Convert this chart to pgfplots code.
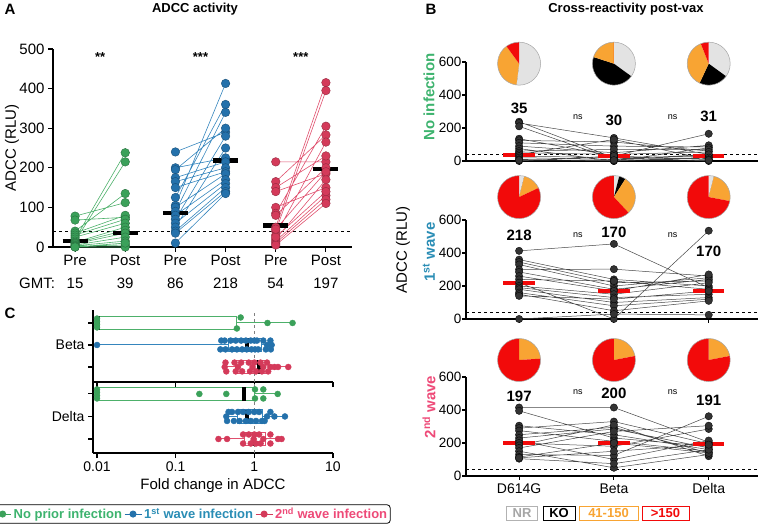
\documentclass[border=0pt]{standalone}
\usepackage{pgfplots}
\pgfplotsset{compat=1.18}
\usepackage{fontspec}
\setmainfont{Liberation Sans}
\definecolor{cgreen}{HTML}{3BA15A}
\definecolor{lgreen}{HTML}{4DB06A}
\definecolor{cblue}{HTML}{2471AB}
\definecolor{lblue}{HTML}{3585BD}
\definecolor{cred}{HTML}{D43A5A}
\definecolor{lred}{HTML}{E0506E}
\definecolor{tgreen}{HTML}{3DB36E}
\definecolor{tblue}{HTML}{2A8DB5}
\definecolor{tpink}{HTML}{EE4A78}
\definecolor{pgray}{HTML}{E3E3E3}
\definecolor{porange}{HTML}{F8A433}
\definecolor{pred}{HTML}{F20A0A}
\definecolor{dotgray}{HTML}{333333}
\newcommand{\fs}[1]{\fontsize{#1}{#1}\selectfont}
\newcommand{\pie}[5]{%
  \pgfmathsetmacro\pa{90-3.6*#2}%
  \pgfmathsetmacro\pb{\pa-3.6*#3}%
  \pgfmathsetmacro\pc{\pb-3.6*#4}%
  \fill[pgray] (#1) -- ++(90:21.5) arc[start angle=90,end angle=\pa,radius=21.5] -- cycle;
  \fill[black] (#1) -- ++(\pa:21.5) arc[start angle=\pa,end angle=\pb,radius=21.5] -- cycle;
  \fill[porange] (#1) -- ++(\pb:21.5) arc[start angle=\pb,end angle=\pc,radius=21.5] -- cycle;
  \fill[pred] (#1) -- ++(\pc:21.5) arc[start angle=\pc,end angle=-270,radius=21.5] -- cycle;
  \draw[gray!70, line width=0.5pt] (#1) circle[radius=21.5];
}
\pgfplotsset{
  every axis/.append style={
    scale only axis, clip=false,
    axis lines=left, axis line style={-, line width=1.1pt},
    tick style={line width=1.1pt, black}, major tick length=5pt,
    tick align=outside,
    /pgf/number format/assume math mode=true,
    tick label style={font=\fs{15}},
  },
  Bax/.style={width=292pt, height=99pt, xmin=0.44, xmax=3.52, ymin=0, ymax=600,
    ytick={0,200,400,600}, xtick={1,2,3}, tick label style={font=\fs{14}},
    major tick length=4pt, yticklabel style={font=\fs{13.5}, inner sep=0.5pt}},
  Bpts/.style={gray!55!black, line width=0.5pt, mark=*, mark size=3.7pt,
    mark options={fill=dotgray, draw=black, line width=0.3pt}, unbounded coords=jump},
  Cax/.style={width=240pt, xmin=0.00889, xmax=10, xminorticks=false,
    xtick={0.01,0.1,1,10}, ytick={1,2,3}, tick label style={font=\fs{14}}},
}
\begin{document}
\begin{tikzpicture}[x=1pt,y=1pt]
\useasboundingbox (0,0) rectangle (759,524);
% ---------------- Panel A ----------------
\node[anchor=west, font=\bfseries\fs{15}] at (1,515) {A};
\node[font=\bfseries\fs{13}] at (195,515) {ADCC activity};
\node[rotate=90, font=\fs{15}] at (12,376) {ADCC (RLU)};
\begin{axis}[at={(53pt,277pt)}, anchor=south west, width=299pt, height=198pt,
  xmin=0.56, xmax=6.52, ymin=0, ymax=500, ytick={0,100,...,500},
  xtick={1,...,6}, xticklabels={Pre,Post,Pre,Post,Pre,Post}]
\addplot[black, dashed, line width=0.8pt] coordinates {(0.56,40) (6.52,40)};
\addplot[lgreen, line width=0.6pt, mark=*, mark size=4.3pt, mark options={fill=cgreen, draw=cgreen!70!black, line width=0.4pt}, unbounded coords=jump] coordinates {
(1,78)(2,112) (1,nan) (1,68)(2,75) (1,nan) (1,40)(2,135) (1,nan) (1,35)(2,80) (1,nan)
(1,30)(2,70) (1,nan) (1,25)(2,60) (1,nan) (1,20)(2,238) (1,nan) (1,15)(2,215) (1,nan)
(1,12)(2,50) (1,nan) (1,10)(2,42) (1,nan) (1,8)(2,35) (1,nan) (1,5)(2,25) (1,nan)
(1,3)(2,15) (1,nan) (1,2)(2,5) (1,nan) (1,0)(2,0) (1,nan) (1,0)(2,10)};
\addplot[lblue, line width=0.6pt, mark=*, mark size=4.3pt, mark options={fill=cblue, draw=cblue!70!black, line width=0.4pt}, unbounded coords=jump] coordinates {
(3,240)(4,290) (3,nan) (3,200)(4,225) (3,nan) (3,195)(4,300) (3,nan) (3,175)(4,215) (3,nan)
(3,165)(4,200) (3,nan) (3,150)(4,190) (3,nan) (3,125)(4,360) (3,nan) (3,105)(4,413) (3,nan)
(3,100)(4,185) (3,nan) (3,90)(4,340) (3,nan) (3,80)(4,170) (3,nan) (3,70)(4,280) (3,nan)
(3,60)(4,160) (3,nan) (3,50)(4,250) (3,nan) (3,40)(4,150) (3,nan) (3,35)(4,140) (3,nan) (3,10)(4,135)};
\addplot[lred, line width=0.6pt, mark=*, mark size=4.3pt, mark options={fill=cred, draw=cred!70!black, line width=0.4pt}, unbounded coords=jump] coordinates {
(5,215)(6,215) (5,nan) (5,165)(6,283) (5,nan) (5,150)(6,230) (5,nan) (5,140)(6,185) (5,nan)
(5,100)(6,150) (5,nan) (5,85)(6,305) (5,nan) (5,80)(6,200) (5,nan) (5,50)(6,415) (5,nan)
(5,40)(6,395) (5,nan) (5,30)(6,265) (5,nan) (5,20)(6,170) (5,nan) (5,15)(6,130) (5,nan)
(5,10)(6,120) (5,nan) (5,5)(6,110) (5,nan) (5,25)(6,140) (5,nan) (5,45)(6,190)};
\addplot[black, line width=4.5pt, unbounded coords=jump] coordinates {
(0.75,15)(1.25,15) (1,nan) (1.75,35)(2.25,35) (1,nan) (2.75,86)(3.25,86) (1,nan)
(3.75,218)(4.25,218) (1,nan) (4.75,54)(5.25,54) (1,nan) (5.75,197)(6.25,197)};
\node[anchor=north, font=\bfseries\fs{13}] at (axis cs:1.5,500) {**};
\node[anchor=north, font=\bfseries\fs{13}] at (axis cs:3.5,500) {***};
\node[anchor=north, font=\bfseries\fs{13}] at (axis cs:5.5,500) {***};
\node[font=\fs{15}] at ([yshift=-36pt]axis cs:1,0) {15};
\node[font=\fs{15}] at ([yshift=-36pt]axis cs:2,0) {39};
\node[font=\fs{15}] at ([yshift=-36pt]axis cs:3,0) {86};
\node[font=\fs{15}] at ([yshift=-36pt]axis cs:4,0) {218};
\node[font=\fs{15}] at ([yshift=-36pt]axis cs:5,0) {54};
\node[font=\fs{15}] at ([yshift=-36pt]axis cs:6,0) {197};
\end{axis}
\node[font=\fs{15}] at (37,241) {GMT:};
% ---------------- Panel B ----------------
\node[anchor=west, font=\bfseries\fs{15}] at (422,515) {B};
\node[font=\bfseries\fs{13}] at (626,515) {Cross-reactivity post-vax};
\begin{axis}[Bax, at={(466pt,363pt)}, anchor=south west, xticklabels={,,}]
\addplot[black, dashed, line width=0.8pt] coordinates {(0.44,40) (3.52,40)};
\addplot[Bpts] coordinates {
(1,238)(2,20)(3,30) (1,nan) (1,230)(2,140)(3,40) (1,nan) (1,210)(2,10)(3,20) (1,nan)
(1,135)(2,30)(3,165) (1,nan) (1,125)(2,115)(3,60) (1,nan) (1,110)(2,90)(3,85) (1,nan)
(1,90)(2,50)(3,95) (1,nan) (1,75)(2,0)(3,80) (1,nan) (1,60)(2,70)(3,70) (1,nan)
(1,50)(2,40)(3,55) (1,nan) (1,40)(2,130)(3,10) (1,nan) (1,30)(2,20)(3,0) (1,nan)
(1,20)(2,10)(3,40) (1,nan) (1,10)(2,0)(3,20) (1,nan) (1,0)(2,30)(3,10) (1,nan) (1,5)(2,5)(3,5)};
\addplot[pred, line width=4pt, unbounded coords=jump] coordinates {
(0.835,35)(1.165,35) (1,nan) (1.835,30)(2.165,30) (1,nan) (2.835,31)(3.165,31)};
\node[font=\bfseries\fs{15}] at (axis cs:1,321) {35};
\node[font=\bfseries\fs{15}] at (axis cs:2,248) {30};
\node[font=\bfseries\fs{15}] at (axis cs:3,273) {31};
\node[font=\fs{9}] at (axis cs:1.62,267) {ns};
\node[font=\fs{9}] at (axis cs:2.62,267) {ns};
\coordinate (p11) at (axis cs:1,590);
\coordinate (p12) at (axis cs:2,590);
\coordinate (p13) at (axis cs:3,590);
\end{axis}
\begin{axis}[Bax, at={(466pt,205pt)}, anchor=south west, xticklabels={,,}]
\addplot[black, dashed, line width=0.8pt] coordinates {(0.44,40) (3.52,40)};
\addplot[Bpts] coordinates {
(1,413)(2,455)(3,190) (1,nan) (1,360)(2,240)(3,200) (1,nan) (1,345)(2,220)(3,230) (1,nan)
(1,330)(2,200)(3,250) (1,nan) (1,300)(2,302)(3,260) (1,nan) (1,285)(2,180)(3,240) (1,nan)
(1,260)(2,170)(3,270) (1,nan) (1,240)(2,230)(3,180) (1,nan) (1,220)(2,0)(3,535) (1,nan)
(1,200)(2,150)(3,220) (1,nan) (1,190)(2,130)(3,150) (1,nan) (1,180)(2,100)(3,130) (1,nan)
(1,160)(2,80)(3,120) (1,nan) (1,150)(2,50)(3,110) (1,nan) (1,140)(2,120)(3,170) (1,nan) (1,0)(2,30)(3,25)};
\addplot[pred, line width=4pt, unbounded coords=jump] coordinates {
(0.835,218)(1.165,218) (1,nan) (1.835,170)(2.165,170) (1,nan) (2.835,170)(3.165,170)};
\node[font=\bfseries\fs{15}] at (axis cs:1,509) {218};
\node[font=\bfseries\fs{15}] at (axis cs:2,527) {170};
\node[font=\bfseries\fs{15}] at (axis cs:3,412) {170};
\node[font=\fs{9}] at (axis cs:1.62,509) {ns};
\node[font=\fs{9}] at (axis cs:2.62,509) {ns};
\coordinate (p21) at (axis cs:1,739);
\coordinate (p22) at (axis cs:2,739);
\coordinate (p23) at (axis cs:3,739);
\end{axis}
\begin{axis}[Bax, at={(466pt,48pt)}, anchor=south west, xticklabels={D614G,Beta,Delta}]
\addplot[black, dashed, line width=0.8pt] coordinates {(0.44,40) (3.52,40)};
\addplot[Bpts] coordinates {
(1,415)(2,415)(3,205) (1,nan) (1,395)(2,230)(3,180) (1,nan) (1,305)(2,250)(3,160) (1,nan)
(1,290)(2,330)(3,195) (1,nan) (1,275)(2,210)(3,150) (1,nan) (1,250)(2,295)(3,140) (1,nan)
(1,230)(2,285)(3,170) (1,nan) (1,215)(2,100)(3,215) (1,nan) (1,200)(2,180)(3,285) (1,nan)
(1,185)(2,310)(3,120) (1,nan) (1,170)(2,270)(3,305) (1,nan) (1,150)(2,50)(3,130) (1,nan)
(1,130)(2,125)(3,362) (1,nan) (1,115)(2,200)(3,140) (1,nan) (1,105)(2,75)(3,160) (1,nan) (1,110)(2,150)(3,190)};
\addplot[pred, line width=4pt, unbounded coords=jump] coordinates {
(0.835,197)(1.165,197) (1,nan) (1.835,200)(2.165,200) (1,nan) (2.835,191)(3.165,191)};
\node[font=\bfseries\fs{15}] at (axis cs:1,485) {197};
\node[font=\bfseries\fs{15}] at (axis cs:2,503) {200};
\node[font=\bfseries\fs{15}] at (axis cs:3,461) {191};
\node[font=\fs{9}] at (axis cs:1.62,509) {ns};
\node[font=\fs{9}] at (axis cs:2.62,509) {ns};
\coordinate (p31) at (axis cs:1,703);
\coordinate (p32) at (axis cs:2,703);
\coordinate (p33) at (axis cs:3,703);
\end{axis}
\pie{p11}{52}{0}{38}{10}
\pie{p12}{35}{45}{20}{0}
\pie{p13}{35}{22}{37}{6}
\pie{p21}{4}{0}{14}{82}
\pie{p22}{4}{5}{29}{62}
\pie{p23}{4}{0}{24}{72}
\pie{p31}{0}{0}{24}{76}
\pie{p32}{0}{0}{22}{78}
\pie{p33}{0}{0}{22}{78}
\node[rotate=90, font=\fs{15}] at (403,274) {ADCC (RLU)};
\node[rotate=90, font=\bfseries\fs{15}, text=tgreen] at (429,427) {No infection};
\node[rotate=90, font=\bfseries\fs{15}, text=tblue] at (429,272) {1\textsuperscript{st} wave};
\node[rotate=90, font=\bfseries\fs{15}, text=tpink] at (429,117) {2\textsuperscript{nd} wave};
\node[draw=gray!60, text=gray!70, line width=0.9pt, font=\bfseries\fs{13}, minimum width=31pt, minimum height=14pt, inner sep=1pt] at (522,11) {NR};
\node[draw=black, text=black, line width=0.9pt, font=\bfseries\fs{13}, minimum width=32pt, minimum height=14pt, inner sep=1pt] at (559,11) {KO};
\node[draw=porange, text=porange, line width=0.9pt, font=\bfseries\fs{13}, minimum width=59pt, minimum height=14pt, inner sep=1pt] at (608.5,11) {41-150};
\node[draw=pred, text=pred, line width=0.9pt, font=\bfseries\fs{13}, minimum width=47pt, minimum height=14pt, inner sep=1pt] at (665.5,11) {>150};
% ---------------- Panel C ----------------
\node[anchor=west, font=\bfseries\fs{15}] at (1,211) {C};
\begin{axis}[xmode=log, Cax, at={(93pt,142pt)}, anchor=south west, height=72pt, ymin=0.318, ymax=3.59,
  xticklabels={,,,}, yticklabels={,Beta,}]
\addplot[gray, dashed, line width=0.7pt] coordinates {(1,0.318)(1,3.59)};
% green
\addplot[lgreen, line width=1pt] coordinates {(0.6,3)(3.06,3)};
\addplot[lgreen, line width=1pt, fill=white] coordinates {(0.01,2.7)(0.6,2.7)(0.6,3.3)(0.01,3.3)(0.01,2.7)};
\addplot[only marks, mark=*, mark size=3pt, cgreen] coordinates {(0.01,2.8)(0.01,2.93)(0.01,3.07)(0.01,3.2)(0.6,2.75)(0.67,3.25)(1.47,3)(3.06,3)};
\addplot[black, line width=3.5pt] coordinates {(0.0103,2.7)(0.0103,3.3)};
% blue
\addplot[lblue, line width=1pt, unbounded coords=jump] coordinates {(0.01,2)(0.467,2) (1,nan) (1.23,2)(1.66,2)};
\addplot[lblue, line width=1pt, fill=white] coordinates {(0.467,1.7)(1.23,1.7)(1.23,2.3)(0.467,2.3)(0.467,1.7)};
\addplot[only marks, mark=*, mark size=3pt, cblue] coordinates {(0.01,2)
(0.38,2.2)(0.42,2.2)(0.5,2.2)(0.58,2.2)(0.68,2.2)(0.78,2.2)(0.9,2.2)(1.0,2.2)(1.08,2.2)(1.3,2.2)(1.6,2.2)
(0.37,1.8)(0.43,1.8)(0.52,1.8)(0.6,1.8)(0.7,1.8)(0.8,1.8)(0.92,1.8)(1.02,1.8)(1.12,1.8)(1.4,1.8)(1.62,1.8)
(1.45,2)(1.66,2)};
\addplot[black, line width=3.5pt] coordinates {(0.81,1.7)(0.81,2.3)};
% red
\addplot[lred, line width=1pt, unbounded coords=jump] coordinates {(0.42,1)(0.57,1) (1,nan) (1.53,1)(2.7,1)};
\addplot[lred, line width=1pt, fill=white] coordinates {(0.57,0.7)(1.53,0.7)(1.53,1.3)(0.57,1.3)(0.57,0.7)};
\addplot[only marks, mark=*, mark size=3pt, cred] coordinates {
(0.43,1.2)(0.56,1.2)(0.68,1.2)(0.85,1.2)(1.0,1.2)(1.2,1.2)(1.45,1.2)
(0.44,0.8)(0.58,0.8)(0.7,0.8)(0.88,0.8)(1.05,0.8)(1.25,0.8)(1.5,0.8)
(0.42,1)(0.62,1)(0.95,1)(1.3,1)(1.6,1)(1.8,1)(2.0,1)(2.7,1)};
\addplot[black, line width=3.5pt] coordinates {(1.14,0.7)(1.14,1.3)};
\end{axis}
\begin{axis}[xmode=log, Cax, at={(93pt,71pt)}, anchor=south west, height=71pt, ymin=0.378, ymax=3.53,
  xticklabels={0.01,0.1,1,10}, yticklabels={,Delta,},
  xlabel={Fold change in ADCC}, xlabel style={font=\fs{15}, at={(axis description cs:0.5,-0.31)}},
  legend style={at={(0.41,-0.86)}, anchor=center, draw=black, rounded corners=3pt, line width=0.8pt,
    font=\bfseries\fs{13}, inner sep=1pt, /tikz/every even column/.append style={column sep=0pt}},
  legend columns=3]
\addlegendimage{cgreen, line width=1pt, mark=*, mark size=3pt}
\addlegendentry[text=tgreen]{No prior infection}
\addlegendimage{cblue, line width=1pt, mark=*, mark size=3pt}
\addlegendentry[text=tblue]{1\textsuperscript{st} wave infection}
\addlegendimage{cred, line width=1pt, mark=*, mark size=3pt}
\addlegendentry[text=tpink]{2\textsuperscript{nd} wave infection}
\addplot[gray, dashed, line width=0.7pt, forget plot] coordinates {(1,0.378)(1,3.53)};
% green
\addplot[lgreen, line width=1pt, forget plot] coordinates {(1.0,3)(1.98,3)};
\addplot[lgreen, line width=1pt, fill=white, forget plot] coordinates {(0.01,2.7)(1.0,2.7)(1.0,3.3)(0.01,3.3)(0.01,2.7)};
\addplot[only marks, mark=*, mark size=3pt, cgreen, forget plot] coordinates {(0.01,2.8)(0.01,2.93)(0.01,3.07)(0.01,3.2)(0.2,3)(0.44,3)(1.02,3.2)(1.02,2.8)(1.3,3.2)(1.3,2.8)(1.98,3)};
\addplot[black, line width=3.5pt, forget plot] coordinates {(0.74,2.7)(0.74,3.3)};
% blue
\addplot[lblue, line width=1pt, unbounded coords=jump, forget plot] coordinates {(0.44,2)(0.61,2) (1,nan) (1.26,2)(2.45,2)};
\addplot[lblue, line width=1pt, fill=white, forget plot] coordinates {(0.61,1.7)(1.26,1.7)(1.26,2.3)(0.61,2.3)(0.61,1.7)};
\addplot[only marks, mark=*, mark size=3pt, cblue, forget plot] coordinates {
(0.47,2.2)(0.52,2.2)(0.62,2.2)(0.72,2.2)(0.85,2.2)(1.0,2.2)(1.15,2.2)(1.6,2.2)
(0.45,1.8)(0.55,1.8)(0.65,1.8)(0.78,1.8)(0.9,1.8)(1.05,1.8)(1.25,1.8)(1.35,1.8)
(0.44,2)(1.45,2)(1.8,2)(2.45,2)};
\addplot[black, line width=3.5pt, forget plot] coordinates {(0.81,1.7)(0.81,2.3)};
% red
\addplot[lred, line width=1pt, unbounded coords=jump, forget plot] coordinates {(0.35,1)(0.745,1) (1,nan) (1.39,1)(2.22,1)};
\addplot[lred, line width=1pt, fill=white, forget plot] coordinates {(0.745,0.7)(1.39,0.7)(1.39,1.3)(0.745,1.3)(0.745,0.7)};
\addplot[only marks, mark=*, mark size=3pt, cred, forget plot] coordinates {
(0.35,1)(0.45,1)(0.72,1.2)(0.72,0.8)(0.85,1.2)(0.9,0.8)(1.0,1.2)(1.05,0.8)(1.15,1.2)(1.2,0.8)
(1.3,1)(1.6,1.2)(1.6,0.8)(2.0,1)(2.22,1)(0.98,1)};
\addplot[black, line width=3.5pt, forget plot] coordinates {(0.97,0.7)(0.97,1.3)};
\end{axis}
\end{tikzpicture}
\end{document}
